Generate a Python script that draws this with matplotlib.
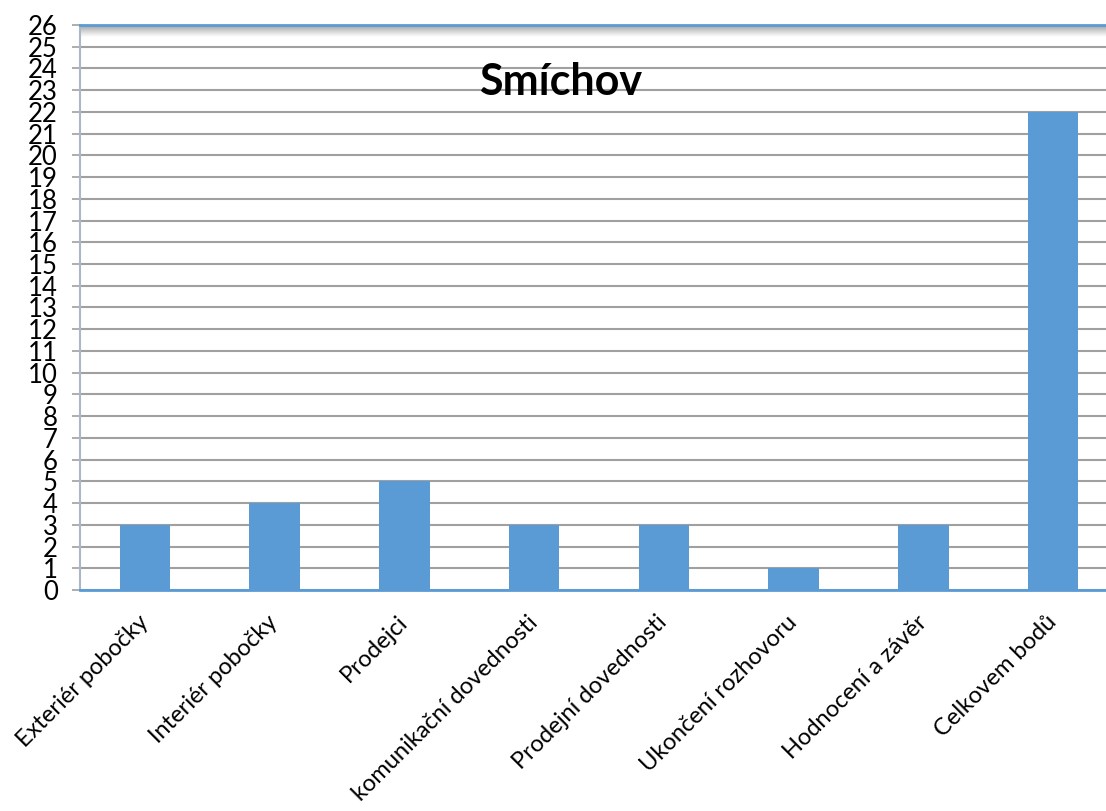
import numpy as np
import matplotlib
matplotlib.use("Agg")
import matplotlib.pyplot as plt

categories = ["Exteriér pobočky", "Interiér pobočky", "Prodejci", "komunikační dovednosti",
              "Prodejní dovednosti", "Ukončení rozhovoru", "Hodnocení a závěr", "Celkovem bodů"]
values = [3, 4, 5, 3, 3, 1, 3, 22]
y_ticks = list(range(0, 27))
title = "Smíchov"

plt.rcParams['font.family'] = ['Lato', 'DejaVu Sans']

fig = plt.figure(figsize=(11.06, 8.11), dpi=100)
ax = fig.add_axes([80/1106, 1-590/811, (1118-80)/1106, (590-25)/811])

x = np.arange(len(categories))
ax.bar(x, values, width=0.39, color='#5b9bd5', zorder=3)
ax.set_yticks(y_ticks)
ax.set_yticklabels([str(v) for v in y_ticks], fontsize=18.5)
ax.yaxis.grid(True, color='#a0a0a0', linewidth=1.5, zorder=0)
ax.set_axisbelow(True)
ax.tick_params(axis='y', length=6, width=1.2, color='#a0a0a0', pad=10)
ax.tick_params(axis='x', length=0, pad=21)
ax.set_xticks(x)
ax.set_xticklabels(categories, rotation=45, ha='right', va='center', rotation_mode='anchor', fontsize=17)

ax.spines['right'].set_visible(False)
ax.spines['top'].set_color('#5b9bd5')
ax.spines['top'].set_linewidth(2)
ax.spines['bottom'].set_color('#5b9bd5')
ax.spines['bottom'].set_linewidth(2)
ax.spines['left'].set_color('#a8b8c8')
ax.spines['left'].set_linewidth(1.5)

# top shadow gradient
grad = np.linspace(0.45, 1.0, 50).reshape(-1, 1)
grad = np.power(grad, 0.6)
ax.imshow(np.dstack([grad, grad, grad]), extent=(-0.5, len(categories)-0.5, 25.45, 26),
          aspect='auto', zorder=1, interpolation='bilinear')
ax.set_ylim(0, 26)
ax.set_xlim(-0.5, len(categories)-0.5)

fig.text(561/1106, 1-82/811, title, fontsize=31, fontweight='bold', ha='center', va='center')

fig.savefig('out.png', dpi=100)
